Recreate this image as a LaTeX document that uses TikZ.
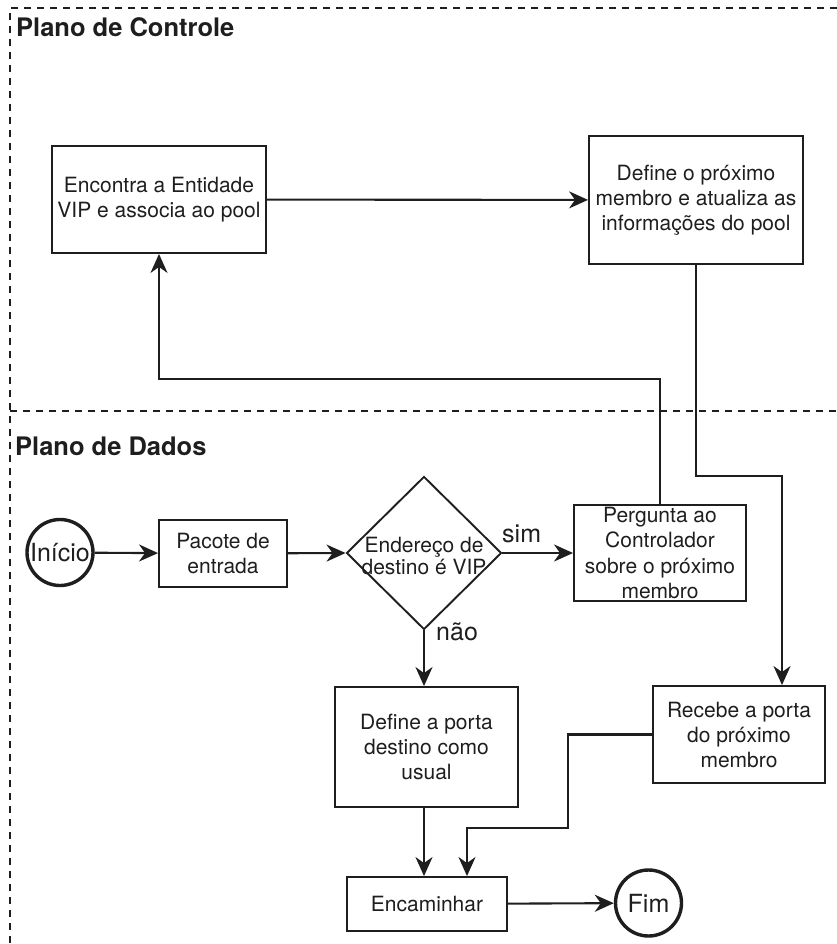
\documentclass[tikz,border=0pt]{standalone}
\usepackage{fontspec}
\setmainfont{TeX Gyre Heros}
\usetikzlibrary{arrows.meta,shapes.geometric}
\definecolor{ink}{HTML}{1E1E1E}
\begin{document}
\begin{tikzpicture}[x=1pt,y=-1pt,
  procbox/.style={draw=ink, text=ink, line width=1.9pt, inner sep=0pt, align=center,
    font=\fontsize{21}{25}\selectfont},
  terminal/.style={circle, draw=ink, text=ink, line width=3.4pt, inner sep=0pt,
    minimum size=66pt, font=\fontsize{25}{29}\selectfont},
  decision/.style={diamond, draw=ink, line width=1.9pt, inner sep=0pt,
    minimum width=155pt, minimum height=153pt},
  dectext/.style={text=ink, inner sep=0pt, align=center, font=\fontsize{21}{20}\selectfont},
  flow/.style={draw=ink, line width=2.1pt, -{Stealth[length=19pt,width=17pt,inset=6pt]}},
  plane/.style={draw=ink, line width=1.5pt, dash pattern=on 7pt off 6pt},
  planetitle/.style={text=ink, anchor=base west, inner sep=0pt,
    font=\fontsize{25.5}{30}\selectfont\bfseries},
  branch/.style={text=ink, anchor=base west, inner sep=0pt,
    font=\fontsize{25}{29}\selectfont}
]
\useasboundingbox (0,0) rectangle (837,944);

% plane borders
\draw[plane] (837,8) -- (10,8) -- (10,944);
\draw[plane] (10,411) -- (837,411);
\node[planetitle] (ctrl) at (16,37) {Plano de Controle};
\node[planetitle] (data) at (15,455) {Plano de Dados};

% control plane
\node[procbox, minimum width=214pt, minimum height=107pt] (find) at (159,199.5)
  {Encontra a Entidade\\VIP e associa ao pool};
\node[procbox, minimum width=214pt, minimum height=128pt] (next) at (696,200)
  {Define o próximo\\membro e atualiza as\\informações do pool};

% data plane
\node[terminal] (start) at (60,552.5) {Início};
\node[procbox, minimum width=128pt, minimum height=67pt] (pkt) at (223,553.5)
  {Pacote de\\entrada};
\node[decision] (vip) at (424,553) {};
\node[dectext] (vip-t) at ([yshift=-3pt]vip.center) {Endereço de\\destino é VIP};
\node[procbox, minimum width=172pt, minimum height=96pt, font=\fontsize{21}{25.5}\selectfont]
  (ask) at (660,553) {Pergunta ao\\Controlador\\sobre o próximo\\membro};
\node[procbox, minimum width=183pt, minimum height=120pt] (usual) at (426.5,747)
  {Define a porta\\destino como\\usual};
\node[procbox, minimum width=172pt, minimum height=97pt] (recv) at (739,734.5)
  {Recebe a porta\\do próximo\\membro};
\node[procbox, minimum width=160pt, minimum height=54pt] (fwd) at (427,904)
  {Encaminhar};
\node[terminal] (end) at (648.5,903) {Fim};

% branch labels
\node[branch] (yes) at (502,542) {sim};
\node[branch] (no) at (436,640) {não};

% junction points
\coordinate (up) at (782,476);
\coordinate (j1) at (568,828);
\coordinate (j2) at (467,828);

% connectors
\draw[flow] (start) -- (pkt);
\draw[flow] (pkt) -- (vip.west);
\draw[flow] (vip.east) -- (ask);
\draw[flow] (vip.south) -- (vip.south |- usual.north);
\draw[flow] (ask.north) -- ++(0,-125) -| (find.south);
\draw[flow] (find) -- (next);
\draw[flow] (next.south) |- (up) -- (up |- recv.north);
\draw[flow] (recv.west) -| (j1) -- (j2) -- (j2 |- fwd.north);
\draw[flow] (usual.south -| vip.south) -- (vip.south |- fwd.north);
\draw[flow] (fwd) -- (end);
\end{tikzpicture}
\end{document}
